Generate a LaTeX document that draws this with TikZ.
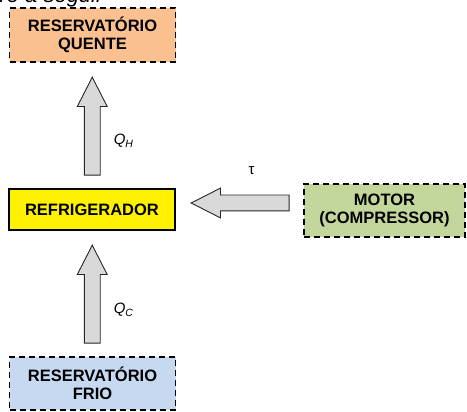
\documentclass[tikz,border=0pt]{standalone}
\usepackage{fontspec}
\setmainfont{Liberation Sans}
\usetikzlibrary{positioning, calc, shapes.arrows}
\definecolor{quente}{HTML}{FAC090}
\definecolor{frio}{HTML}{C6D9F1}
\definecolor{motorverde}{HTML}{C3D69B}
\definecolor{setacinza}{HTML}{D9D9D9}
\tikzset{
  box/.style={draw, line width=1.8pt, inner sep=0pt, align=center,
    font=\fontsize{16.5}{17.5}\selectfont\bfseries},
  reservbox/.style={box, dash pattern=on 6pt off 4pt},
  blockarrow/.style={single arrow, draw=black!85, fill=setacinza, line width=0.9pt,
    inner sep=7.5pt, single arrow head extend=7pt, single arrow tip angle=54,
    minimum height=98pt},
  lbl/.style={font=\fontsize{15}{15}\selectfont}
}

\begin{document}
\begin{tikzpicture}[x=1pt, y=-1pt]
  \useasboundingbox (0,0) rectangle (467,412);
  \clip (0,0) rectangle (467,412);

  \node[anchor=base west, font=\fontsize{22}{22}\selectfont\itshape] (topo) at (-4,3) {re a seguir};

  \node[reservbox, fill=quente, minimum width=166pt, minimum height=54pt] (hot) at (92.5,35) {RESERVATÓRIO\\QUENTE};
  \node[box, fill=yellow, minimum width=166pt, minimum height=41pt] (ref) at (92,209.5) {REFRIGERADOR};
  \node[reservbox, fill=motorverde, minimum width=161pt, minimum height=53pt] (motor) at (384.5,210.5) {MOTOR\\(COMPRESSOR)};
  \node[reservbox, fill=frio, minimum width=166pt, minimum height=53pt] (cold) at (92.5,383.5) {RESERVATÓRIO\\FRIO};

  % setas de calor e trabalho
  \node[blockarrow, shape border rotate=90, yshift=-8.5pt] (qh) at ($(ref.north)!0.5!(hot.south)$) {};
  \node[blockarrow, shape border rotate=90, yshift=-8.5pt] (qc) at ($(cold.north)!0.5!(ref.south)$) {};
  \node[blockarrow, shape border rotate=180, xshift=8.5pt, yshift=7pt] (tau) at ($(motor.west)!0.5!(ref.east)$) {};

  \node[lbl, anchor=west] (qhlbl) at ($(qh)+(18,7)$) {\textit{Q}\textsubscript{\textit{H}}};
  \node[lbl, anchor=west] (qclbl) at ($(qc)+(18,8)$) {\textit{Q}\textsubscript{\textit{C}}};
  \node[lbl] (taulbl) at ($(tau)+(3.5,-32)$) {τ};
\end{tikzpicture}
\end{document}
